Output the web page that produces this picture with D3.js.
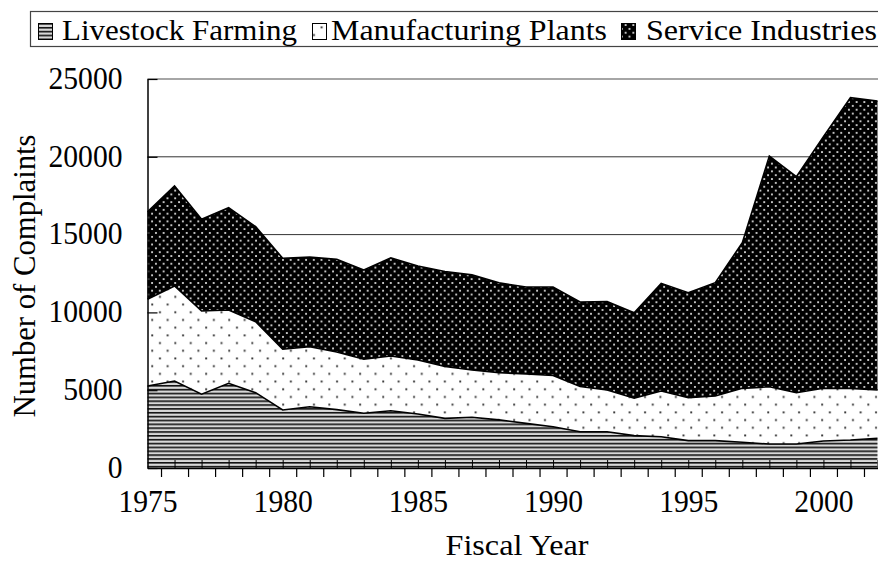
<!DOCTYPE html>
<html><head><meta charset="utf-8">
<script src="https://cdn.jsdelivr.net/npm/d3@7"></script>
<style>
body{margin:0;background:#fff}
svg{display:block}
text{font-family:"Liberation Serif","DejaVu Serif",serif;fill:#000}
</style>
</head><body>
<svg id="c" width="878" height="563"></svg>
<script>
// ---- data ----
const years = [1975,1976,1977,1978,1979,1980,1981,1982,1983,1984,1985,1986,1987,1988,1989,1990,1991,1992,1993,1994,1995,1996,1997,1998,1999,2000,2001,2002];
const livestock = [5270,5590,4740,5440,4840,3730,3940,3750,3520,3680,3470,3190,3260,3090,2870,2650,2330,2330,2080,2010,1760,1760,1650,1540,1540,1740,1800,1910];
const manufacturing = [5570,6110,5350,4710,4560,3900,3860,3700,3470,3520,3470,3330,3040,3040,3170,3300,2910,2680,2400,2940,2760,2870,3470,3680,3300,3390,3320,3100];
const service = [5630,6430,5890,6580,6110,5850,5750,5960,5740,6300,6040,6110,6110,5770,5590,5680,5430,5680,5500,6920,6750,7280,9360,14830,13880,16170,18680,18570];
const seriesNames = ["Livestock Farming","Manufacturing Plants","Service Industries"];
const yTicks = [0,5000,10000,15000,20000,25000];
const xTickLabels = [1975,1980,1985,1990,1995,2000];
const yTitle = "Number of Complaints";
const xTitle = "Fiscal Year";

// ---- layout ----
const W = 878, H = 563;
const P = {left:147.5, right:877.5, top:79, bottom:468};
const FS = 31, DIGIT_W = 14.8;
const x = d3.scaleLinear().domain([years[0], years[years.length-1]]).range([P.left, P.right]);
const y = d3.scaleLinear().domain([0, 25000]).range([P.bottom, P.top]);

const svg = d3.select("#c");
svg.append("rect").attr("width",W).attr("height",H).attr("fill","#fff");
const defs = svg.append("defs");

// livestock: narrow horizontal stripes
const pL = defs.append("pattern").attr("id","pLive").attr("patternUnits","userSpaceOnUse").attr("width",8).attr("height",3.85);
pL.append("rect").attr("width",8).attr("height",3.85).attr("fill","#d8d8d8");
pL.append("rect").attr("y",0).attr("width",8).attr("height",1.6).attr("fill","#111");
// manufacturing: sparse dots on white
const pM = defs.append("pattern").attr("id","pManu").attr("patternUnits","userSpaceOnUse").attr("width",15.4).attr("height",15.4);
pM.append("rect").attr("width",15.4).attr("height",15.4).attr("fill","#fff");
pM.append("rect").attr("x",5).attr("y",3.3).attr("width",1.9).attr("height",1.9).attr("fill","#333");
pM.append("rect").attr("x",12.7).attr("y",11).attr("width",1.9).attr("height",1.9).attr("fill","#333");
// service: black with light dots
const pS = defs.append("pattern").attr("id","pServ").attr("patternUnits","userSpaceOnUse").attr("width",7.7).attr("height",7.7);
pS.append("rect").attr("width",7.7).attr("height",7.7).attr("fill","#000");
pS.append("rect").attr("x",1).attr("y",1).attr("width",1.9).attr("height",1.9).attr("fill","#c8c8c8");
pS.append("rect").attr("x",4.85).attr("y",4.85).attr("width",1.9).attr("height",1.9).attr("fill","#c8c8c8");
const fills = ["url(#pLive)","url(#pManu)","url(#pServ)"];

// gridlines
svg.append("g").selectAll("line").data(yTicks.filter(v=>v>0 && v<25000)).join("line")
  .attr("x1",P.left).attr("x2",W).attr("y1",d=>y(d)).attr("y2",d=>y(d))
  .attr("stroke","#333").attr("stroke-width",1);
svg.append("line").attr("x1",P.left).attr("x2",W).attr("y1",y(25000)).attr("y2",y(25000))
  .attr("stroke","#888").attr("stroke-width",1.5);

// stacked areas
const table = years.map((yr,i)=>({year:yr, a:livestock[i], b:manufacturing[i], c:service[i]}));
const layers = d3.stack().keys(["a","b","c"])(table);
const area = d3.area().x(d=>x(d.data.year)).y0(d=>y(d[0])).y1(d=>y(d[1]));
const topLine = d3.line().x(d=>x(d.data.year)).y(d=>y(d[1]));
svg.append("g").selectAll("path").data(layers).join("path")
  .attr("d",area).attr("fill",(d,i)=>fills[i]);
svg.append("g").selectAll("path").data(layers).join("path")
  .attr("d",topLine).attr("fill","none").attr("stroke","#000").attr("stroke-width",1.6);

const fitDigits = sel => sel.style("font-size",FS+"px")
  .attr("textLength",function(){return this.textContent.length*DIGIT_W;})
  .attr("lengthAdjust","spacingAndGlyphs");

// y axis
const gY = svg.append("g").attr("transform",`translate(${P.left},0)`)
  .call(d3.axisLeft(y).tickValues(yTicks).tickFormat(d3.format("d")).tickSizeInner(-10).tickSizeOuter(0).tickPadding(25));
gY.attr("font-family",null).attr("font-size",null);
gY.select(".domain").attr("stroke","#000").attr("stroke-width",1.5);
gY.selectAll(".tick line").attr("stroke","#000").attr("stroke-width",1.2);
gY.selectAll("text").call(fitDigits).attr("dy","0.30em");

// x axis: labels
const gX = svg.append("g").attr("transform",`translate(0,${P.bottom})`)
  .call(d3.axisBottom(x).tickValues(xTickLabels).tickSize(0).tickPadding(22).tickFormat(d3.format("d")));
gX.attr("font-family",null).attr("font-size",null);
gX.select(".domain").attr("stroke","#000").attr("stroke-width",1.5);
gX.selectAll("text").call(fitDigits);
// x axis: outer ticks between categories
const mids = years.slice(0,-1).map(v=>v+0.5);
const gXo = svg.append("g").attr("transform",`translate(0,${P.bottom})`)
  .call(d3.axisBottom(x).tickValues(mids).tickSize(9).tickFormat(()=>""));
gXo.select(".domain").remove();
gXo.selectAll(".tick line").attr("stroke","#000").attr("stroke-width",1.2);
// x axis: inner ticks at categories
const gXi = svg.append("g").attr("transform",`translate(0,${P.bottom})`)
  .call(d3.axisBottom(x).tickValues(years.slice(1)).tickSizeInner(-8).tickSizeOuter(0).tickFormat(()=>""));
gXi.select(".domain").remove();
gXi.selectAll(".tick line").attr("stroke","#000").attr("stroke-width",1);

// axis titles
svg.append("text").attr("transform","translate(35,276) rotate(-90)")
  .attr("text-anchor","middle").style("font-size","31px")
  .attr("textLength",283).attr("lengthAdjust","spacingAndGlyphs").text(yTitle);
svg.append("text").attr("x",517).attr("y",555)
  .attr("text-anchor","middle").style("font-size","29px")
  .attr("textLength",143).attr("lengthAdjust","spacingAndGlyphs").text(xTitle);

// legend
const lg = svg.append("g");
lg.append("rect").attr("x",30.5).attr("y",11.5).attr("width",900).attr("height",35)
  .attr("fill","#fff").attr("stroke","#444").attr("stroke-width",1.2);
const legendPos = [{sx:38, tx:62, tl:235},{sx:312, tx:331, tl:276},{sx:621, tx:646, tl:231}];
seriesNames.forEach((name,i)=>{
  const p = legendPos[i];
  lg.append("rect").attr("x",p.sx+0.5).attr("y",23.5).attr("width",14).attr("height",16)
    .attr("fill",fills[i]).attr("stroke","#000").attr("stroke-width",1);
  lg.append("text").attr("x",p.tx).attr("y",39.5).style("font-size","29px")
    .attr("textLength",p.tl).attr("lengthAdjust","spacingAndGlyphs").text(name);
});
</script>
</body></html>
